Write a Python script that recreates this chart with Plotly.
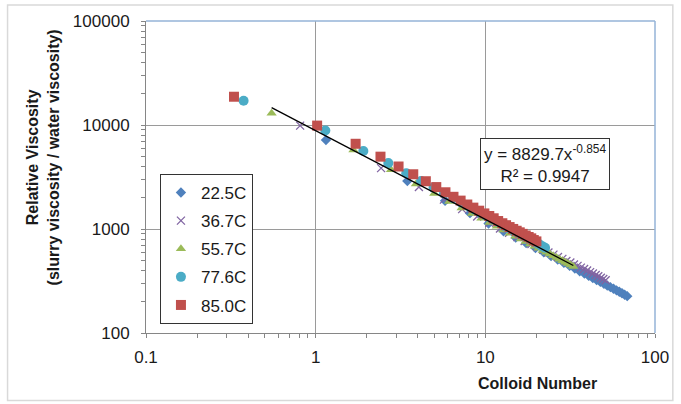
import numpy as np
import plotly.graph_objects as go

# Colloid number vs. relative viscosity for each slurry temperature
x_225 = [1.15, 3.47, 5.79, 8.12, 10.45, 12.8, 15.1, 17.4, 19.75, 22.1, 24.4, 26.7, 29.05, 31.4, 33.7,
         36.0, 38.35, 40.7, 43.0, 45.3, 47.65, 50.0, 52.3, 54.6, 56.95, 59.3, 61.6, 63.9, 66.25, 68.6]
y_225 = [7170, 2890, 1870, 1420, 1131, 950, 826, 731, 657, 596, 548, 508, 472, 442, 416,
         393, 373, 354, 338, 323, 310, 297, 286, 276, 266, 257, 249, 241, 233, 226]

x_367 = [0.81, 2.43, 4.06, 5.7, 7.3, 8.95, 10.55, 12.2, 13.8, 15.45, 17.05, 18.7, 20.3, 21.95, 23.55, 25.2,
         26.8, 28.45, 30.05, 31.7, 33.3, 34.95, 36.55, 38.2, 39.8, 41.45, 43.05, 44.7, 46.3, 47.95, 49.55, 51.2]
y_367 = [9870, 3850, 2535, 1917, 1552, 1318, 1145, 1012, 920, 835, 767, 717, 669, 631, 594, 567,
         538, 516, 493, 476, 455, 442, 425, 413, 399, 385, 373, 361, 351, 340, 331, 322]

x_557 = [0.55, 1.67, 2.78, 3.9, 5.0, 6.13, 7.25, 8.35, 9.48, 10.6, 11.7, 12.8, 13.95, 15.05, 16.2,
         17.3, 18.4, 19.55, 20.65, 21.8, 22.9, 24.0, 25.1, 26.25, 27.35, 28.5, 29.6, 30.7, 31.85, 33.0]
y_557 = [13000, 5760, 3710, 2710, 2190, 1840, 1594, 1413, 1268, 1153, 1060, 980, 911, 854, 802,
         759, 719, 683, 652, 622, 597, 574, 552, 531, 513, 495, 479, 465, 450, 437]

x_776 = [0.376, 1.14, 1.91, 2.68, 3.42, 4.18, 4.95, 5.7, 6.45, 7.2, 7.95, 8.7, 9.45, 10.2, 10.95,
         11.7, 12.45, 13.2, 13.95, 14.7, 15.45, 16.2, 16.95, 17.7, 18.45, 19.2, 19.95, 20.7, 21.5, 22.5]
y_776 = [17100, 8850, 5630, 4300, 3440, 2890, 2500, 2197, 1978, 1800, 1654, 1531, 1414, 1324, 1246,
         1178, 1117, 1053, 1004, 960, 920, 884, 851, 820, 792, 765, 740, 717, 688, 660]

x_850 = [0.33, 1.02, 1.72, 2.41, 3.08, 3.76, 4.46, 5.14, 5.82, 6.49, 7.15, 7.83, 8.5, 9.2, 9.87,
         10.55, 11.2, 11.9, 12.6, 13.25, 13.9, 14.6, 15.3, 15.95, 16.6, 17.3, 18.0, 18.65, 19.3, 20.0]
y_850 = [18700, 9870, 6600, 4960, 3990, 3360, 2880, 2530, 2255, 2040, 1875, 1720, 1605, 1500, 1412,
         1334, 1268, 1193, 1136, 1088, 1044, 1001, 962, 929, 898, 866, 838, 813, 783, 760]

# Power-law fit y = a * x^b and the span it covers
fit_a = 8829.7
fit_b = -0.854
fit_r2 = 0.9947
fit_x_range = [0.55, 33.0]

x_tick_vals = [0.1, 1, 10, 100]
x_tick_text = ["0.1", "1", "10", "100"]
y_tick_vals = [100, 1000, 10000, 100000]
y_tick_text = ["100", "1000", "10000", "100000"]

series = [
    ("22.5C", x_225, y_225, dict(symbol="diamond", size=8, color="#4F81BD")),
    ("36.7C", x_367, y_367, dict(symbol="x-thin", size=8, color="#8064A2",
                                 line=dict(color="#8064A2", width=1.3))),
    ("55.7C", x_557, y_557, dict(symbol="triangle-up", size=9, color="#9BBB59")),
    ("77.6C", x_776, y_776, dict(symbol="circle", size=10, color="#4BACC6")),
    ("85.0C", x_850, y_850, dict(symbol="square", size=10, color="#C0504D")),
]

fig = go.Figure()
for i, (name, xs, ys, mk) in enumerate(series):
    fig.add_trace(go.Scatter(x=xs, y=ys, mode="markers", name=name, marker=mk,
                             legendgroup=f"g{i}"))

fx = np.array(fit_x_range)
fig.add_trace(go.Scatter(x=fx, y=fit_a * fx ** fit_b, mode="lines",
                         line=dict(color="black", width=1.3), showlegend=False,
                         hoverinfo="skip"))

# visible tick marks (decades plus 2..9 subdivisions) are drawn as minor ticks;
# the major ticks are invisible and only space the labels away from the axis
minor_x = [m * 10.0 ** e for e in range(-1, 2) for m in range(1, 10)] + [100]
minor_y = [m * 10.0 ** e for e in range(2, 5) for m in range(1, 10)] + [100000]

FONT = "Liberation Sans, Arial, sans-serif"
axis_font = dict(family=FONT, size=17, color="#1a1a1a")

fig.update_xaxes(
    type="log", range=[-1, 2], tickvals=x_tick_vals, ticktext=x_tick_text,
    showgrid=True, gridcolor="#9a9a9a", gridwidth=1,
    showline=True, linecolor="#868686", linewidth=1,
    ticks="outside", ticklen=9, tickcolor="rgba(0,0,0,0)",
    minor=dict(tickvals=minor_x, ticks="outside", ticklen=4, tickcolor="#868686", showgrid=False),
    tickfont=axis_font, zeroline=False,
)
fig.update_yaxes(
    type="log", range=[2, 5], tickvals=y_tick_vals, ticktext=y_tick_text,
    showgrid=True, gridcolor="#9a9a9a", gridwidth=1,
    showline=True, linecolor="#868686", linewidth=1,
    ticks="outside", ticklen=12, tickcolor="rgba(0,0,0,0)",
    minor=dict(tickvals=minor_y, ticks="outside", ticklen=4, tickcolor="#868686", showgrid=False),
    tickfont=axis_font, zeroline=False,
)

# plot-area border along the top and right edges, and the outer chart frame
shapes = [
    dict(type="line", xref="paper", yref="paper", x0=0, x1=1, y0=1, y1=1,
         line=dict(color="#95B3D7", width=1.5)),
    dict(type="line", xref="paper", yref="paper", x0=1, x1=1, y0=0, y1=1,
         line=dict(color="#95B3D7", width=1.5)),
    dict(type="rect", xref="paper", yref="paper", x0=-0.272, x1=1.035, y0=-0.2166, y1=1.051,
         line=dict(color="#d9d9d9", width=1.5)),
]

annotations = [
    dict(text=f"y = {fit_a}x<sup>{fit_b}</sup><br>R² = {fit_r2}",
         xref="paper", yref="paper", x=0.783, y=0.543, xanchor="center", yanchor="middle",
         showarrow=False, font=dict(family=FONT, size=17, color="#1a1a1a"),
         bordercolor="#333333", borderwidth=1, borderpad=3, bgcolor="white", align="center"),
    dict(text="<b>Colloid Number</b>", xref="paper", yref="paper", x=0.769, y=-0.162,
         xanchor="center", yanchor="middle", showarrow=False,
         font=dict(family=FONT, size=16, color="#1a1a1a")),
    dict(text="<b>Relative Viscosity<br>(slurry viscosity / water viscosity)</b>",
         xref="paper", yref="paper", x=-0.2016, y=0.564, xanchor="center", yanchor="middle",
         textangle=-90, showarrow=False,
         font=dict(family=FONT, size=16, color="#1a1a1a")),
]

fig.update_layout(
    width=681, height=404,
    margin=dict(l=146, r=24, t=19, b=71),
    paper_bgcolor="white", plot_bgcolor="white",
    showlegend=True,
    legend=dict(x=0.0274, y=0.5096, xanchor="left", yanchor="top",
                bordercolor="#333333", borderwidth=1, bgcolor="white",
                font=dict(family=FONT, size=17, color="#1a1a1a"),
                tracegroupgap=3),
    shapes=shapes, annotations=annotations,
)

fig.write_html("out.html")
